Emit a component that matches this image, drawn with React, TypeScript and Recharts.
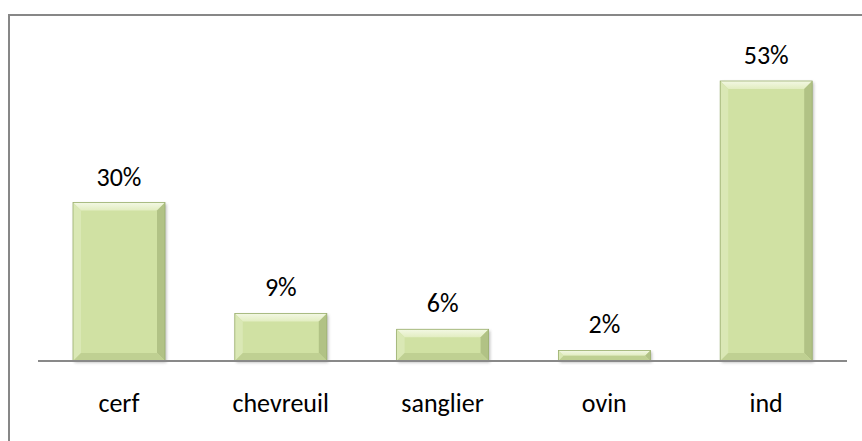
import { Bar, BarChart, LabelList, XAxis, YAxis } from "recharts";

const categories = ["cerf", "chevreuil", "sanglier", "ovin", "ind"];
const shares = [30, 9, 6, 2, 53];
const yDomain = [0, 60];

const data = categories.map((name, i) => ({ name, share: shares[i] }));

const font = "Calibri, Carlito, Lato, sans-serif";

function BevelBar(props: any) {
  const { x, y, width: w, height: h } = props;
  if (!h || h <= 0) return null;
  const b = Math.min(8, h / 2, w / 2);
  const pts = (arr: number[][]) => arr.map((p) => p.join(",")).join(" ");
  return (
    <g>
      <rect x={x + 1.5} y={y + 1.5} width={w} height={h} fill="#6b6b6b" opacity={0.45} filter="url(#barShadow)" />
      <rect x={x} y={y} width={w} height={h} fill="#d0e1a3" />
      <polygon points={pts([[x, y], [x + w, y], [x + w - b, y + b], [x + b, y + b]])} fill="url(#bevelTop)" />
      <polygon points={pts([[x, y], [x + b, y + b], [x + b, y + h - b], [x, y + h]])} fill="#dae8b5" />
      <polygon points={pts([[x + w, y], [x + w - b, y + b], [x + w - b, y + h - b], [x + w, y + h]])} fill="#b1c285" />
      <polygon points={pts([[x, y + h], [x + w, y + h], [x + w - b, y + h - b], [x + b, y + h - b]])} fill="#bfd092" />
      <rect x={x} y={y} width={w} height={h} fill="none" stroke="#9aae6e" strokeWidth={0.8} />
    </g>
  );
}

function ShareLabel(props: any) {
  const { x, y, width, value } = props;
  return (
    <text x={x + width / 2} y={y - 17} textAnchor="middle" fontFamily={font} fontSize={26} fill="#000">
      {`${Math.round(value)}%`}
    </text>
  );
}

function CategoryTick(props: any) {
  const { x, y, payload } = props;
  return (
    <text x={x} y={y + 51} textAnchor="middle" fontFamily={font} fontSize={26} fill="#000">
      {payload.value}
    </text>
  );
}

export default function App() {
  return (
    <div style={{ position: "fixed", left: 0, top: 0, width: 862, height: 441, overflow: "hidden", background: "#fff" }}>
      <svg width={0} height={0} style={{ position: "absolute" }}>
        <defs>
          <filter id="barShadow" x="-10%" y="-10%" width="130%" height="130%">
            <feGaussianBlur stdDeviation="1.5" />
          </filter>
          <linearGradient id="bevelTop" x1="0" y1="0" x2="0" y2="1">
            <stop offset="0%" stopColor="#f3f8e4" />
            <stop offset="100%" stopColor="#e2edc1" />
          </linearGradient>
        </defs>
      </svg>
      <div
        style={{
          position: "absolute",
          left: 8,
          top: 14,
          width: 900,
          height: 500,
          border: "2px solid #878787",
          boxSizing: "border-box",
        }}
      />
      <div style={{ position: "absolute", left: 0, top: 0 }}>
        <BarChart width={862} height={441} data={data} margin={{ top: 44, right: 15, bottom: 20, left: 38 }}>
          <XAxis
            dataKey="name"
            height={60}
            axisLine={{ stroke: "#898989", strokeWidth: 2 }}
            tickLine={false}
            tickSize={0}
            tickMargin={0}
            tick={<CategoryTick />}
            interval={0}
          />
          <YAxis hide domain={yDomain} />
          <Bar dataKey="share" barSize={92} shape={<BevelBar />} isAnimationActive={false}>
            <LabelList dataKey="share" content={<ShareLabel />} />
          </Bar>
        </BarChart>
      </div>
    </div>
  );
}
